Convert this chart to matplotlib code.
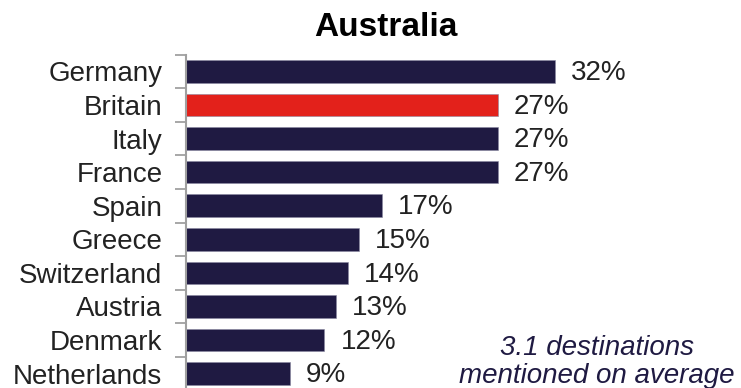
import numpy as np
import matplotlib.pyplot as plt

plt.rcParams['font.family'] = ['Liberation Sans', 'DejaVu Sans']

countries = ["Germany", "Britain", "Italy", "France", "Spain", "Greece",
             "Switzerland", "Austria", "Denmark", "Netherlands"]
shares = [32, 27, 27, 27, 17, 15, 14, 13, 12, 9]
highlight = "Britain"

navy = "#1f1a42"
red = "#e3211b"

fig = plt.figure(figsize=(7.41, 3.88), dpi=100)
ax = fig.add_axes([186 / 741, -0.006, 1 - 186 / 741, 0.865])

y = np.arange(len(countries))
colors = [red if c == highlight else navy for c in countries]
ax.barh(y, shares, height=0.67, color=colors, edgecolor="#8a88a0", linewidth=0.4)

# value labels to the right of each bar
for yi, v in zip(y, shares):
    ax.text(v + 1.4, yi + 0.05, f"{v}%", va="center", ha="left",
            fontsize=20, color="#222222")

ax.set_xlim(0, 48.1)
ax.set_ylim(len(countries) - 0.5, -0.5)
ax.set_yticks(y)
ax.set_yticklabels(countries, fontsize=20, color="#222222")
ax.tick_params(axis="y", which="major", length=0, pad=17)
# small grey ticks between categories
ax.set_yticks(np.arange(-0.5, len(countries), 1), minor=True)
ax.tick_params(axis="y", which="minor", length=8, width=1.3, color="#a0a0a0")
ax.set_xticks([])

for side in ["top", "right", "bottom"]:
    ax.spines[side].set_visible(False)
ax.spines["left"].set_color("#a0a0a0")
ax.spines["left"].set_linewidth(1.5)

fig.text(386 / 741, 1 - 28 / 388, "Australia", ha="center", va="center",
         fontsize=24, fontweight="bold", color="black")

fig.text(597 / 741, 1 - 362 / 388, "3.1 destinations\nmentioned on average",
         ha="center", va="center", fontsize=20, style="italic",
         color=navy, linespacing=1.12)

fig.savefig("out.png", dpi=100, facecolor="white")
